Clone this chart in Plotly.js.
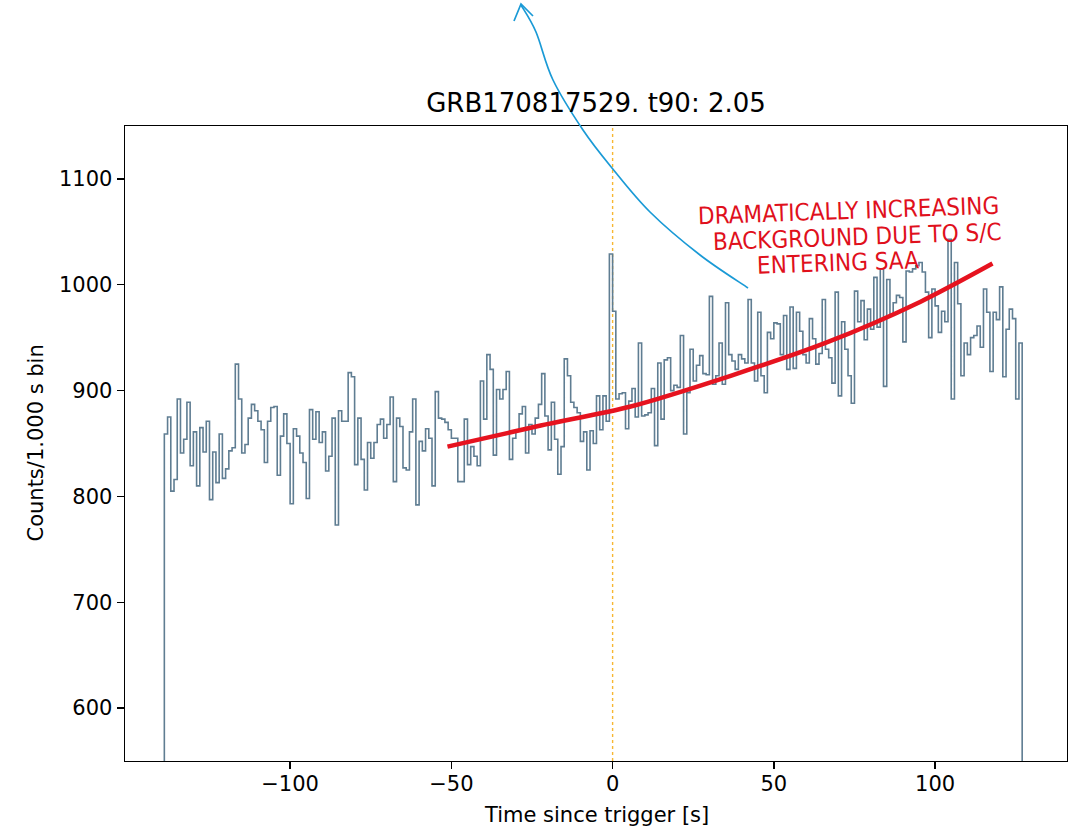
<!DOCTYPE html>
<html><head><meta charset="utf-8">
<script src="https://cdn.plot.ly/plotly-3.0.1.min.js"></script>
<style>html,body{margin:0;padding:0;background:#fff}</style>
</head><body><div id="chart" style="width:1077px;height:829px"></div>
<script>
// ---- data ----
const binStart = -139;   // left edge of first bin [s]
const binWidth = 1;      // s
const counts = [
 859, 875, 805, 816, 892, 841, 854, 889, 829, 861,
 810, 865, 842, 871, 797, 842, 813, 859, 817, 826,
 843, 846, 925, 892, 841, 849, 874, 887, 881, 871,
 863, 832, 871, 884, 885, 820, 857, 878, 850, 793,
 864, 857, 841, 832, 798, 882, 854, 880, 851, 861,
 824, 838, 874, 773, 881, 871, 871, 917, 913, 830,
 874, 835, 806, 851, 836, 851, 868, 873, 855, 868,
 894, 814, 874, 866, 827, 825, 861, 892, 792, 852,
 843, 864, 855, 810, 899, 874, 873, 870, 863, 855,
 855, 814, 814, 873, 830, 847, 838, 829, 909, 873,
 934, 920, 839, 901, 892, 901, 918, 835, 855, 863,
 878, 885, 841, 868, 859, 874, 887, 916, 876, 844,
 889, 854, 821, 847, 930, 914, 889, 884, 879, 852,
 861, 825, 862, 850, 895, 863, 895, 871, 1029, 975,
 892, 897, 898, 864, 890, 902, 875, 945, 876, 877,
 879, 902, 848, 926, 873, 929, 931, 900, 905, 903,
 952, 859, 898, 939, 909, 924, 933, 916, 915, 989,
 906, 914, 945, 906, 983, 934, 928, 920, 934, 930,
 926, 986, 926, 909, 974, 914, 898, 955, 949, 964,
 963, 934, 971, 920, 979, 921, 974, 956, 934, 926,
 968, 949, 925, 935, 986, 939, 931, 907, 993, 895,
 965, 939, 914, 888, 994, 965, 985, 948, 977, 958,
 1007, 960, 1015, 904, 1005, 972, 983, 990, 988, 946,
 1013, 1012, 1015, 1018, 1021, 1012, 993, 950, 996, 980,
 955, 975, 965, 1043, 892, 1021, 982, 914, 945, 934,
 950, 952, 961, 941, 996, 974, 918, 974, 967, 998,
 913, 958, 977, 968, 892, 945
];
const triggerTime = 0;
const xTickVals = [-100, -50, 0, 50, 100];
const xTickText = ['\u2212100', '\u221250', '0', '50', '100'];
const yTickVals = [600, 700, 800, 900, 1000, 1100];
const yTickText = ['600', '700', '800', '900', '1000', '1100'];
// hand-drawn background trend (annotation, data units)
const trendT = [-51.2, -22.3, 5.6, 36.6, 66, 95.5, 117.8];
const trendC = [847, 867, 885, 914, 945, 984, 1020];
const titleText = 'GRB170817529. t90: 2.05';
const xLabel = 'Time since trigger [s]';
const yLabel = 'Counts/1.000 s bin';
const noteLines = ['DRAMATICALLY INCREASING', 'BACKGROUND DUE TO S/C', 'ENTERING SAA'];

// ---- layout geometry (pixels) ----
const W = 1077, H = 829;
const plotL = 125, plotR = 1067, plotT = 126, plotB = 761;
const px = p => (p - plotL) / (plotR - plotL);
const py = p => (plotB - p) / (plotB - plotT);

// blue hand-drawn arrow (pixel coords of the sketch)
const arrowXpx = [748, 700, 650, 612, 583, 553, 536, 521];
const arrowYpx = [288, 255, 212, 168, 130, 80, 32, 5];
const headXpx = [514, 521, 533];
const headYpx = [21, 4, 16];

// ---- build step outline ----
const sx = [binStart], sy = [0];
for (let i = 0; i < counts.length; i++) { sx.push(binStart + i * binWidth); sy.push(counts[i]); }
const binEnd = binStart + counts.length * binWidth;
sx.push(binEnd); sy.push(counts[counts.length - 1]);
sx.push(binEnd); sy.push(0);

const font = 'DejaVu Sans, Liberation Sans, sans-serif';
const handFont = 'DejaVu Sans Condensed, DejaVu Sans, sans-serif';
const traces = [
  {x: sx, y: sy, type: 'scatter', mode: 'lines', line: {shape: 'hv', color: '#5f7d92', width: 1.6}, hoverinfo: 'skip'},
  {x: trendT, y: trendC, type: 'scatter', mode: 'lines', line: {shape: 'spline', smoothing: 0.8, color: '#e6131f', width: 4.5}, hoverinfo: 'skip'}
];

function smoothPath(xs, ys) {
  const P = xs.map((x, i) => [px(x), py(ys[i])]);
  let d = 'M' + P[0][0] + ',' + P[0][1];
  for (let i = 0; i < P.length - 1; i++) {
    const p0 = P[Math.max(i - 1, 0)], p1 = P[i], p2 = P[i + 1], p3 = P[Math.min(i + 2, P.length - 1)];
    const c1 = [p1[0] + (p2[0] - p0[0]) / 6, p1[1] + (p2[1] - p0[1]) / 6];
    const c2 = [p2[0] - (p3[0] - p1[0]) / 6, p2[1] - (p3[1] - p1[1]) / 6];
    d += ' C' + c1[0] + ',' + c1[1] + ' ' + c2[0] + ',' + c2[1] + ' ' + p2[0] + ',' + p2[1];
  }
  return d;
}
function polyPath(xs, ys) {
  return xs.map((x, i) => (i === 0 ? 'M' : 'L') + px(x) + ',' + py(ys[i])).join(' ');
}

const axisCommon = {
  ticks: 'outside', ticklen: 7, tickwidth: 1.4, tickcolor: '#000',
  showline: true, linecolor: '#000', linewidth: 1.4, mirror: true, showgrid: false, zeroline: false,
  tickfont: {family: font, size: 21, color: '#000'}
};

const layout = {
  width: W, height: H,
  margin: {l: plotL, r: W - plotR, t: plotT, b: H - plotB},
  paper_bgcolor: '#fff', plot_bgcolor: '#fff',
  showlegend: false,
  font: {family: font, size: 21, color: '#000'},
  title: {text: titleText, font: {family: font, size: 26, color: '#000'}, x: 0.5, xanchor: 'center', xref: 'paper', y: 1 - 103 / H, yanchor: 'middle', yref: 'container'},
  xaxis: Object.assign({range: [-151.2, 140.9], tickvals: xTickVals, ticktext: xTickText, ticklabelstandoff: -4}, axisCommon),
  yaxis: Object.assign({range: [550, 1150], tickvals: yTickVals, ticktext: yTickText}, axisCommon),
  shapes: [
    {type: 'line', xref: 'x', yref: 'paper', x0: triggerTime, x1: triggerTime, y0: 0, y1: 1, line: {color: '#f7b733', width: 1.4, dash: 'dot'}, layer: 'below'},
    {type: 'path', xref: 'paper', yref: 'paper', path: smoothPath(arrowXpx, arrowYpx), line: {color: '#1a9ad6', width: 1.7}},
    {type: 'path', xref: 'paper', yref: 'paper', path: polyPath(headXpx, headYpx), line: {color: '#1a9ad6', width: 1.7}}
  ],
  annotations: [
    {text: xLabel, xref: 'paper', yref: 'paper', x: 0.5, y: py(815), xanchor: 'center', yanchor: 'middle', showarrow: false, font: {family: font, size: 21, color: '#000'}},
    {text: yLabel, xref: 'paper', yref: 'paper', x: px(35), y: 0.5, xanchor: 'center', yanchor: 'middle', textangle: -90, showarrow: false, font: {family: font, size: 21, color: '#000'}},
    {text: noteLines[0], xref: 'paper', yref: 'paper', x: px(848), y: py(211), xanchor: 'center', yanchor: 'middle', textangle: -2, showarrow: false, font: {family: handFont, size: 24, color: '#e0101c'}},
    {text: noteLines[1], xref: 'paper', yref: 'paper', x: px(857), y: py(237), xanchor: 'center', yanchor: 'middle', textangle: -2, showarrow: false, font: {family: handFont, size: 24, color: '#e0101c'}},
    {text: noteLines[2], xref: 'paper', yref: 'paper', x: px(838), y: py(263), xanchor: 'center', yanchor: 'middle', textangle: -2, showarrow: false, font: {family: handFont, size: 24, color: '#e0101c'}}
  ]
};
Plotly.newPlot('chart', traces, layout, {displayModeBar: false, staticPlot: true});
</script></body></html>
